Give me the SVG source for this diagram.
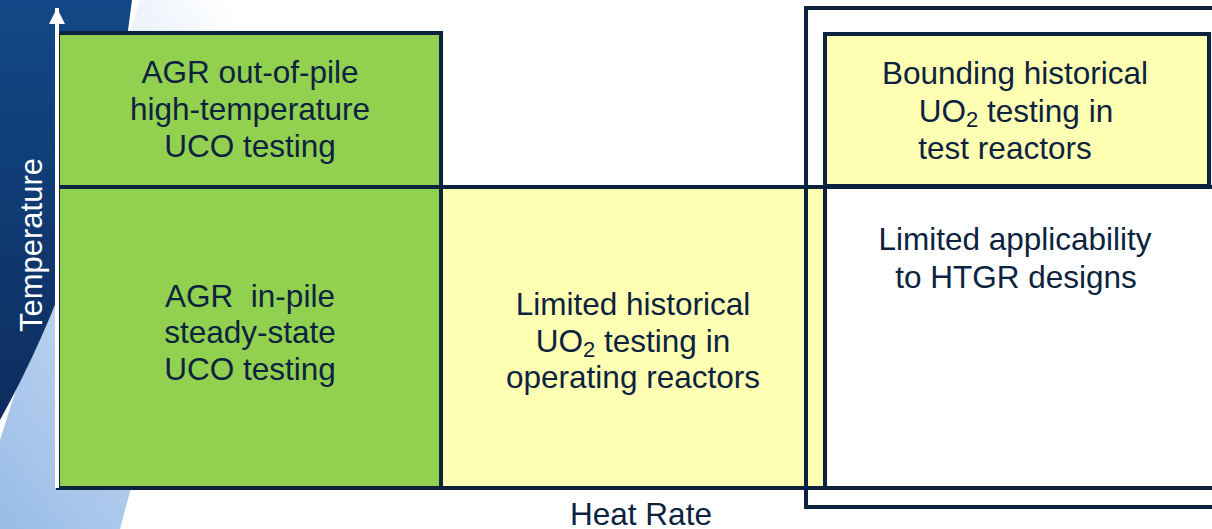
<svg xmlns="http://www.w3.org/2000/svg" width="1212" height="529" viewBox="0 0 1212 529">
<defs>
<linearGradient id="dark" x1="0" y1="0" x2="0" y2="1">
<stop offset="0" stop-color="#114887"/>
<stop offset="1" stop-color="#0e2d5e"/>
</linearGradient>
<linearGradient id="light" x1="0" y1="1" x2="0.75" y2="0">
<stop offset="0" stop-color="#98bce6"/>
<stop offset="0.5" stop-color="#c6daf1"/>
<stop offset="1" stop-color="#ffffff"/>
</linearGradient>
<marker id="arr" markerWidth="16" markerHeight="16" refX="16" refY="8" orient="auto" markerUnits="userSpaceOnUse" viewBox="0 0 16 16">
<path d="M0,0 L16,8 L0,16 Z" fill="#ffffff"/>
</marker>
<style>
.box{stroke:#0c2340;stroke-width:4}
.g{fill:#92d050}
.y{fill:#ffffb3}
.w{fill:none}
.t{font-family:"Liberation Sans",Arial,sans-serif;font-size:31.5px;fill:#0c2340;text-anchor:middle}
.ax{font-family:"Liberation Sans",Arial,sans-serif;font-size:31px;fill:#ffffff;text-anchor:middle}
</style>
</defs>
<rect width="1212" height="529" fill="#ffffff"/>
<g id="background">
<path d="M140,0 L300,0 Q190,260 120,529 L0,529 L0,440 Q70,220 140,0 Z" fill="url(#light)"/>
<path d="M0,0 L132,0 Q105,230 0,420 Z" fill="url(#dark)"/>
</g>
<g id="agr-out-of-pile">
<rect class="box g" x="58" y="33" width="383" height="154"/>
<text class="t" x="250" y="83">AGR out-of-pile</text>
<text class="t" x="250" y="120">high-temperature</text>
<text class="t" x="250" y="157">UCO testing</text>
</g>
<g id="agr-in-pile">
<rect class="box g" x="58" y="187" width="383" height="301"/>
<text class="t" x="250" y="307" xml:space="preserve">AGR  in-pile</text>
<text class="t" x="250" y="343">steady-state</text>
<text class="t" x="250" y="380">UCO testing</text>
</g>
<g id="limited-historical">
<rect class="box y" x="441" y="187" width="384" height="301"/>
<text class="t" x="633" y="315">Limited historical</text>
<text class="t" x="633" y="352">UO<tspan font-size="22" dy="5">2</tspan><tspan dy="-5"> testing in</tspan></text>
<text class="t" x="633" y="388">operating reactors</text>
</g>
<g id="limited-applicability">
<rect class="box w" x="825" y="187" width="400" height="301"/>
<text class="t" x="1015" y="250">Limited applicability</text>
<text class="t" x="1016" y="288">to HTGR designs</text>
</g>
<g id="bounding-historical">
<rect class="box y" x="825" y="34" width="384" height="152"/>
<text class="t" x="1015" y="84">Bounding historical</text>
<text class="t" x="1016" y="122">UO<tspan font-size="22" dy="5">2</tspan><tspan dy="-5"> testing in</tspan></text>
<text class="t" x="1005" y="159">test reactors</text>
</g>
<g id="bounding-frame">
<rect class="box w" x="806" y="8" width="420" height="499"/>
</g>
<g id="connectors">
<line x1="57" y1="488" x2="57" y2="8" stroke="#ffffff" stroke-width="4" marker-end="url(#arr)"/>
</g>
<g id="axis-labels">
<text class="ax" transform="translate(42,245) rotate(-90)">Temperature</text>
<text class="t" x="641" y="525">Heat Rate</text>
</g>
</svg>
